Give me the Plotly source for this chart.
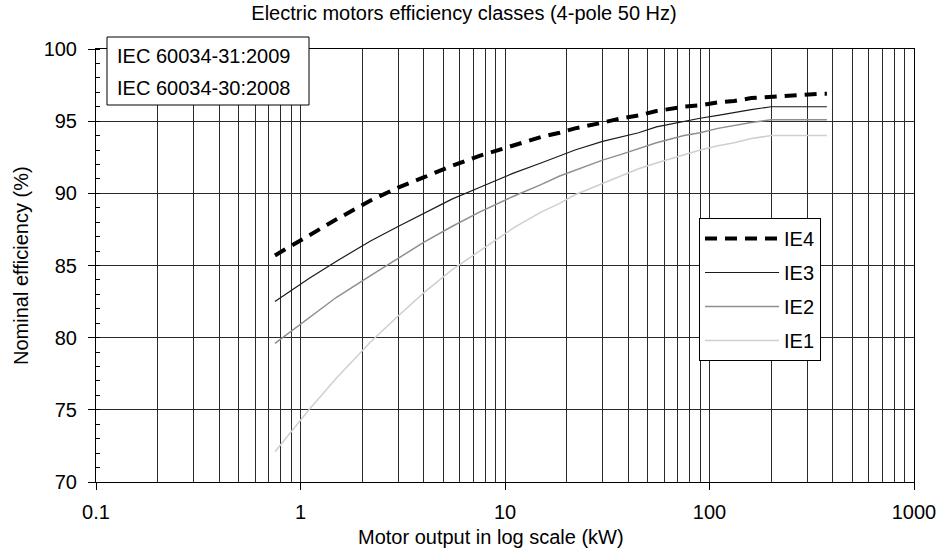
import plotly.graph_objects as go

# Rated output (kW) and nominal efficiency (%) per class, 4-pole 50 Hz
output_kw = [0.75, 1.1, 1.5, 2.2, 3, 4, 5.5, 7.5, 11, 15, 18.5, 22, 30, 37, 45, 55,
             75, 90, 110, 132, 160, 200, 250, 315, 355, 375]
ie4 = [85.7, 87.1, 88.2, 89.5, 90.4, 91.1, 91.9, 92.6, 93.3, 93.9, 94.2, 94.5, 94.9,
       95.2, 95.4, 95.7, 96.0, 96.1, 96.3, 96.4, 96.6, 96.7, 96.8, 96.9, 96.9, 96.9]
ie3 = [82.5, 84.1, 85.3, 86.7, 87.7, 88.6, 89.6, 90.4, 91.4, 92.1, 92.6, 93.0, 93.6,
       93.9, 94.2, 94.6, 95.0, 95.2, 95.4, 95.6, 95.8, 96.0, 96.0, 96.0, 96.0, 96.0]
ie2 = [79.6, 81.4, 82.8, 84.3, 85.5, 86.6, 87.7, 88.7, 89.8, 90.6, 91.2, 91.6, 92.3,
       92.7, 93.1, 93.5, 94.0, 94.2, 94.5, 94.7, 94.9, 95.1, 95.1, 95.1, 95.1, 95.1]
ie1 = [72.1, 75.0, 77.2, 79.7, 81.5, 83.1, 84.7, 86.0, 87.6, 88.7, 89.3, 89.9, 90.7,
       91.2, 91.7, 92.1, 92.7, 93.0, 93.3, 93.5, 93.8, 94.0, 94.0, 94.0, 94.0, 94.0]

x_tick_vals = [0.1, 1, 10, 100, 1000]
x_tick_text = ["0.1", "1", "10", "100", "1000"]
y_tick_vals = [70, 75, 80, 85, 90, 95, 100]

standards = ["IEC 60034-31:2009", "IEC 60034-30:2008"]

FONT = "Liberation Sans, Arial, Helvetica, sans-serif"
FS = 20
GRID = "#2a2a2a"

# plot area in pixels
L, R, T, B = 96, 914, 49, 482
PW, PH = R - L, B - T


def px(xp):
    return (xp - L) / PW


def py(yp):
    return (B - yp) / PH


series = [
    ("IE4", ie4, dict(color="black", width=4, dash="12px,8px")),
    ("IE3", ie3, dict(color="#1a1a1a", width=1.2)),
    ("IE2", ie2, dict(color="#8f8f8f", width=1.5)),
    ("IE1", ie1, dict(color="#cfcfcf", width=1.5)),
]

fig = go.Figure()
for name, vals, line in series:
    fig.add_trace(go.Scatter(x=output_kw, y=vals, mode="lines", name=name,
                             line=line, legendgroup=name))

minor_x = [m * 10 ** e for e in range(-1, 3) for m in range(2, 10)]

fig.update_layout(
    width=938, height=552,
    margin=dict(l=L, r=938 - R, t=T, b=552 - B, autoexpand=False),
    paper_bgcolor="white", plot_bgcolor="white",
    font=dict(family=FONT, size=FS, color="black"),
    title=dict(text="Electric motors efficiency classes (4-pole 50 Hz)",
               x=464 / 938, xanchor="center", xref="container",
               y=1 - 13 / 552, yanchor="middle", yref="container",
               font=dict(family=FONT, size=FS, color="black")),
    showlegend=True,
    legend=dict(x=px(699), y=py(218), xanchor="left", yanchor="top",
                bgcolor="white", bordercolor="black", borderwidth=1,
                font=dict(family=FONT, size=FS, color="black"),
                tracegroupgap=5, itemwidth=74, traceorder="grouped"),
)

fig.update_xaxes(
    type="log", range=[-1, 3], automargin=False,
    tickmode="array", tickvals=x_tick_vals, ticktext=x_tick_text,
    ticks="outside", ticklen=7, tickcolor="black", tickwidth=1,
    showgrid=True, gridcolor=GRID, gridwidth=1,
    minor=dict(tickmode="array", tickvals=minor_x, showgrid=True,
               gridcolor=GRID, gridwidth=1, ticks=""),
    showline=True, linecolor="black", linewidth=1, mirror=True,
    zeroline=False, ticklabelstandoff=5,
)
fig.update_yaxes(
    range=[70, 100], automargin=False,
    tickmode="array", tickvals=y_tick_vals,
    ticks="outside", ticklen=7, tickcolor="black", tickwidth=1,
    showgrid=True, gridcolor=GRID, gridwidth=1,
    minor=dict(dtick=1, ticks="inside", ticklen=4, tickcolor="black", showgrid=False),
    showline=True, linecolor="black", linewidth=1, mirror=True,
    zeroline=False, ticklabelstandoff=7,
)

# axis titles placed as annotations
fig.add_annotation(text="Motor output in log scale (kW)", xref="paper", yref="paper",
                   x=px(491), y=py(537), xanchor="center",
                   yanchor="middle", showarrow=False, font=dict(size=FS))
fig.add_annotation(text="Nominal efficiency (%)", xref="paper", yref="paper",
                   x=px(21), y=py(266), xanchor="center",
                   yanchor="middle", textangle=-90, showarrow=False, font=dict(size=FS))

# standards box in the top-left corner
fig.add_shape(type="rect", xref="paper", yref="paper",
              x0=px(107), x1=px(309), y0=py(105), y1=py(37),
              line=dict(color="black", width=1), fillcolor="white", layer="above")
for i, label in enumerate(standards):
    fig.add_annotation(text=label, xref="paper", yref="paper",
                       x=px(115), y=py(56 + 31.5 * i),
                       xanchor="left", yanchor="middle", showarrow=False,
                       font=dict(size=FS))

fig.write_html("out.html")
